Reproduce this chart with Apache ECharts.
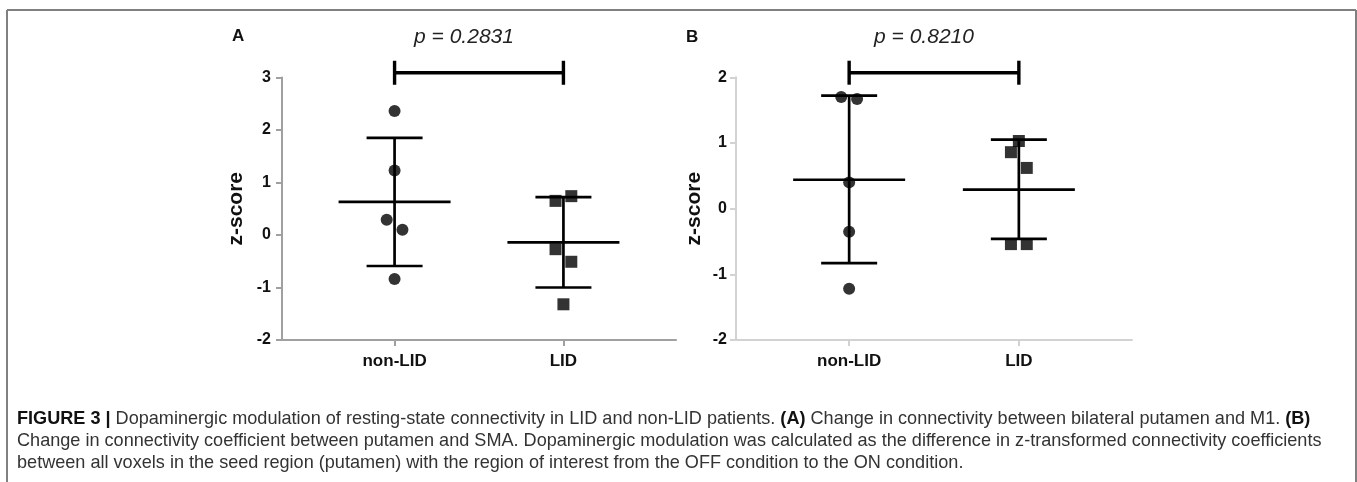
<!DOCTYPE html>
<html>
<head>
<meta charset="utf-8">
<script src="https://cdn.jsdelivr.net/npm/echarts@6/dist/echarts.min.js"></script>
<style>
html,body{margin:0;padding:0;background:#fff;}
#chart{width:1357px;height:482px;}
</style>
</head>
<body>
<div id="chart"></div>
<script>
// ---- data ----
const categories = ['non-LID', 'LID'];
const categoryPos = [2, 5];
const jitterStep = 0.14;

// Panel A
const nonLidA = [2.36, 1.23, 0.29, 0.10, -0.84];
const nonLidAJitter = [0, 0, -1, 1, 0];
const lidA = [0.65, 0.74, -0.27, -0.51, -1.32];
const lidAJitter = [-1, 1, -1, 1, 0];
const meanA = [0.63, -0.14];
const sdLowA = [-0.59, -1.00];
const sdHighA = [1.85, 0.72];
const bracketA = [3.09];
const pValueA = 'p = 0.2831';
const yRangeA = [-2, 3];

// Panel B
const nonLidB = [1.70, 1.67, 0.40, -0.35, -1.22];
const nonLidBJitter = [-1, 1, 0, 0, 0];
const lidB = [1.03, 0.86, 0.62, -0.54, -0.54];
const lidBJitter = [0, -1, 1, -1, 1];
const meanB = [0.44, 0.29];
const sdLowB = [-0.83, -0.46];
const sdHighB = [1.72, 1.05];
const bracketB = [2.07];
const pValueB = 'p = 0.8210';
const yRangeB = [-2, 2];

const captionLines = [
  [{b:'FIGURE 3 | '}, {t:'Dopaminergic modulation of resting-state connectivity in LID and non-LID patients. '}, {b:'(A)'}, {t:' Change in connectivity between bilateral putamen and M1. '}, {b:'(B)'}],
  [{t:'Change in connectivity coefficient between putamen and SMA. Dopaminergic modulation was calculated as the difference in z-transformed connectivity coefficients'}],
  [{t:'between all voxels in the seed region (putamen) with the region of interest from the OFF condition to the ON condition.'}]
];

// ---- helpers ----
const pts = (vals, jit, pos) => vals.map((v, i) => [pos + jit[i] * jitterStep, v]);
const errData = (mean, lo, hi) => categoryPos.map((p, i) => [p, mean[i], lo[i], hi[i]]);

const MEAN_HALF = 56, CAP_HALF = 28, TICK_HALF = 12;
const lineStyle = {stroke: '#000', lineWidth: 2.7};

function renderErr(params, api) {
  const x = api.value(0);
  const pm = api.coord([x, api.value(1)]);
  const pl = api.coord([x, api.value(2)]);
  const ph = api.coord([x, api.value(3)]);
  return {type: 'group', children: [
    {type: 'line', shape: {x1: pl[0], y1: pl[1], x2: ph[0], y2: ph[1]}, style: lineStyle},
    {type: 'line', shape: {x1: pl[0] - CAP_HALF, y1: pl[1], x2: pl[0] + CAP_HALF, y2: pl[1]}, style: lineStyle},
    {type: 'line', shape: {x1: ph[0] - CAP_HALF, y1: ph[1], x2: ph[0] + CAP_HALF, y2: ph[1]}, style: lineStyle},
    {type: 'line', shape: {x1: pm[0] - MEAN_HALF, y1: pm[1], x2: pm[0] + MEAN_HALF, y2: pm[1]}, style: lineStyle}
  ]};
}
function renderBracket(params, api) {
  const a = api.coord([api.value(0), api.value(2)]);
  const b = api.coord([api.value(1), api.value(2)]);
  const s = {stroke: '#000', lineWidth: 3.4};
  return {type: 'group', children: [
    {type: 'line', shape: {x1: a[0], y1: a[1], x2: b[0], y2: b[1]}, style: s},
    {type: 'line', shape: {x1: a[0], y1: a[1] - TICK_HALF, x2: a[0], y2: a[1] + TICK_HALF}, style: s},
    {type: 'line', shape: {x1: b[0], y1: b[1] - TICK_HALF, x2: b[0], y2: b[1] + TICK_HALF}, style: s}
  ]};
}

const FONT = '"Liberation Sans", Arial, Helvetica, sans-serif';
function xAxisCfg(gridIndex, color) {
  return {
    type: 'value', gridIndex, min: 0, max: 7,
    axisLine: {show: true, onZero: false, lineStyle: {color, width: 2}},
    axisTick: {show: true, customValues: categoryPos, length: 6, lineStyle: {color, width: 2}},
    axisLabel: {customValues: categoryPos, margin: 13, color: '#111', fontWeight: 'bold', fontSize: 17, fontFamily: FONT,
      formatter: v => categories[categoryPos.indexOf(v)] || ''},
    splitLine: {show: false}
  };
}
function yAxisCfg(gridIndex, range, color, gap, labelMargin) {
  return {
    type: 'value', gridIndex, min: range[0], max: range[1], interval: 1,
    name: 'z-score', nameLocation: 'middle', nameGap: gap, nameRotate: 90,
    nameTextStyle: {color: '#111', fontWeight: 'bold', fontSize: 21, fontFamily: FONT},
    axisLine: {show: true, onZero: false, lineStyle: {color, width: 2}},
    axisTick: {show: true, length: 6, lineStyle: {color, width: 2}},
    axisLabel: {margin: labelMargin, color: '#111', fontWeight: 'bold', fontSize: 16, fontFamily: FONT},
    splitLine: {show: false}
  };
}

const scatterBase = {type: 'scatter', symbolSize: 12, itemStyle: {color: '#000'}, z: 5, silent: true};

const chart = echarts.init(document.getElementById('chart'), null, {renderer: 'canvas'});

const graphics = [
  {type: 'line', shape: {x1: 7, y1: 10, x2: 1356, y2: 10}, style: {stroke: '#808080', lineWidth: 2}},
  {type: 'line', shape: {x1: 7, y1: 10, x2: 7, y2: 482}, style: {stroke: '#808080', lineWidth: 2}},
  {type: 'line', shape: {x1: 1356, y1: 10, x2: 1356, y2: 482}, style: {stroke: '#808080', lineWidth: 2}},
  {type: 'text', left: 232, top: 28, style: {text: 'A', fontWeight: 'bold', fontSize: 17, fill: '#111', fontFamily: FONT}},
  {type: 'text', left: 686, top: 29, style: {text: 'B', fontWeight: 'bold', fontSize: 17, fill: '#111', fontFamily: FONT}},
  {type: 'text', x: 464, y: 37, style: {text: pValueA, fontStyle: 'italic', fontSize: 21, fill: '#222', fontFamily: FONT, align: 'center', verticalAlign: 'middle'}},
  {type: 'text', x: 924, y: 37, style: {text: pValueB, fontStyle: 'italic', fontSize: 21, fill: '#222', fontFamily: FONT, align: 'center', verticalAlign: 'middle'}}
];
const capY = [419, 441, 463];
const CAP_SIZE = 18.1;
captionLines.forEach((line, li) => {
  const text = line.map(seg => seg.b !== undefined ? '{b|' + seg.b + '}' : '{t|' + seg.t + '}').join('');
  graphics.push({type: 'text', x: 17, y: capY[li], style: {
    text, verticalAlign: 'middle', fill: '#222', fontSize: CAP_SIZE, fontFamily: FONT,
    rich: {
      b: {fontWeight: 'bold', fontSize: CAP_SIZE, fontFamily: FONT, fill: '#111'},
      t: {fontSize: CAP_SIZE, fontFamily: FONT, fill: '#333'}
    }
  }});
});

chart.setOption({
  animation: false,
  backgroundColor: '#fff',
  grid: [
    {left: 282, top: 77.5, width: 394, height: 262.5},
    {left: 736, top: 77.3, width: 396, height: 262.7}
  ],
  xAxis: [xAxisCfg(0, '#a0a0a0'), xAxisCfg(1, '#d2d2d2')],
  yAxis: [yAxisCfg(0, yRangeA, '#a0a0a0', 35, 11), yAxisCfg(1, yRangeB, '#d2d2d2', 31, 9)],
  series: [
    {type: 'custom', xAxisIndex: 0, yAxisIndex: 0, renderItem: renderErr, data: errData(meanA, sdLowA, sdHighA), z: 3, silent: true},
    {type: 'custom', xAxisIndex: 0, yAxisIndex: 0, renderItem: renderBracket, data: [[categoryPos[0], categoryPos[1], bracketA[0]]], clip: false, z: 3, silent: true},
    Object.assign({}, scatterBase, {xAxisIndex: 0, yAxisIndex: 0, symbol: 'circle', data: pts(nonLidA, nonLidAJitter, categoryPos[0])}),
    Object.assign({}, scatterBase, {xAxisIndex: 0, yAxisIndex: 0, symbol: 'rect', data: pts(lidA, lidAJitter, categoryPos[1])}),
    {type: 'custom', xAxisIndex: 1, yAxisIndex: 1, renderItem: renderErr, data: errData(meanB, sdLowB, sdHighB), z: 3, silent: true},
    {type: 'custom', xAxisIndex: 1, yAxisIndex: 1, renderItem: renderBracket, data: [[categoryPos[0], categoryPos[1], bracketB[0]]], clip: false, z: 3, silent: true},
    Object.assign({}, scatterBase, {xAxisIndex: 1, yAxisIndex: 1, symbol: 'circle', data: pts(nonLidB, nonLidBJitter, categoryPos[0])}),
    Object.assign({}, scatterBase, {xAxisIndex: 1, yAxisIndex: 1, symbol: 'rect', data: pts(lidB, lidBJitter, categoryPos[1])})
  ],
  graphic: graphics
});
</script>
</body>
</html>
